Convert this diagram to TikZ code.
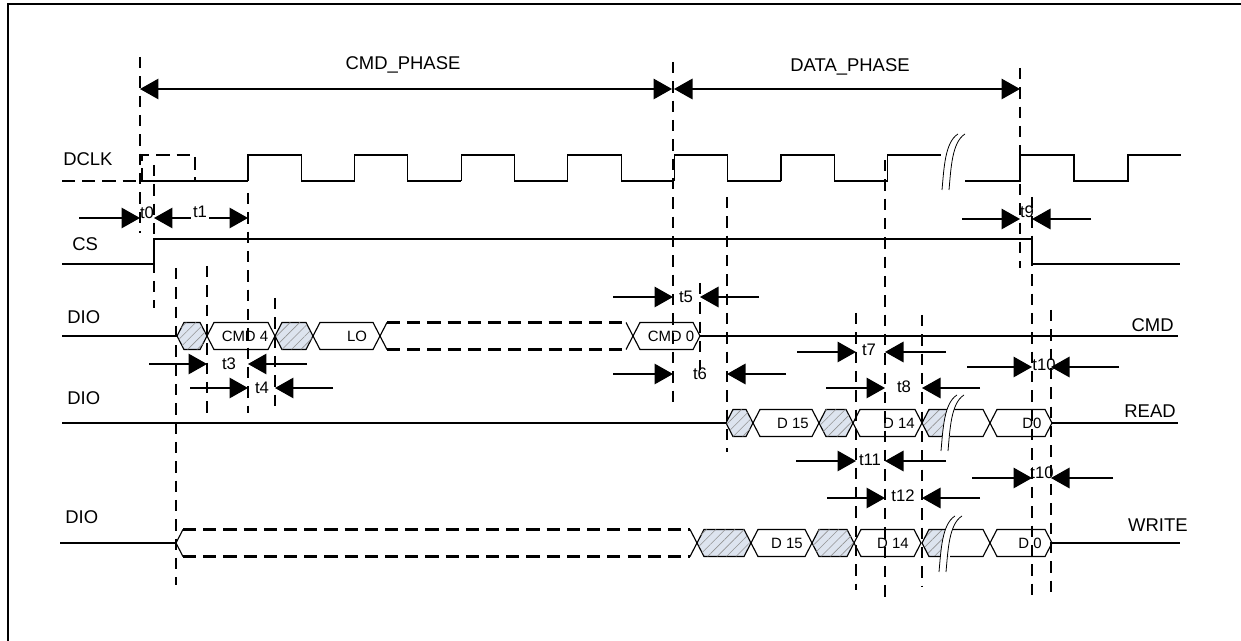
\documentclass[tikz,border=0pt]{standalone}
\usepackage{fontspec}
\setmainfont{Liberation Sans}
\usetikzlibrary{arrows.meta,patterns.meta}
\definecolor{hatchblue}{RGB}{221,228,239}

\begin{document}
\begin{tikzpicture}[x=0.02cm, y=-0.02cm, >={Triangle[length=0.37cm,width=0.41cm]},
		sig/.style={line width=0.65pt},
		marker/.style={line width=0.9pt, dash pattern=on 6.5pt off 4.5pt},
		busdash/.style={line width=1.5pt, dash pattern=on 7.5pt off 4pt},
		timearrow/.style={->, line width=0.9pt},
		hatched/.style={fill=hatchblue, postaction={pattern={Lines[angle=45,distance=3.8pt,line width=0.35pt]}, pattern color=gray!85}},
		lbl/.style={font=\fontsize{10.5}{12}\selectfont, inner sep=0pt},
		tlbl/.style={font=\fontsize{9.5}{11}\selectfont, inner sep=0pt},
		boxtxt/.style={font=\fontsize{8.5}{10}\selectfont, inner sep=0pt}]
		\useasboundingbox (0,0) rectangle (1241,641);

		% Frame
		\draw[line width=1.4pt] (8,641) -- (8,4) -- (1241,4);

		% Phases
		\draw[<->, line width=0.9pt] (140,89) -- (672,89);
		\draw[<->, line width=0.9pt] (674,89) -- (1020,89);
		\node[lbl, anchor=base] (cmdphase) at (403,70) {CMD\_PHASE};
		\node[lbl, anchor=base] (dataphase) at (850,72) {DATA\_PHASE};

		% Signal names
		\node[lbl, anchor=west] (dclk) at (63,159) {DCLK};
		\node[lbl, anchor=west] (cs) at (72,244) {CS};
		\node[lbl, anchor=west] (diocmd) at (67,317) {DIO};
		\node[lbl, anchor=west] (dioread) at (67,398) {DIO};
		\node[lbl, anchor=west] (diowrite) at (65,517) {DIO};
		\node[lbl, anchor=east] (cmd) at (1174,325) {CMD};
		\node[lbl, anchor=east] (read) at (1176,411) {READ};
		\node[lbl, anchor=east] (write) at (1188,525) {WRITE};

		% DCLK
		\draw[busdash] (62,181) -- (140,181);
		\draw[busdash] (142,181) -- (142,155) -- (195,155) -- (195,181);
		\draw[sig] (140,181) -- (248,181);
		\foreach \k in {0,...,5}
			\draw[sig] (248+106.6*\k,181) -- (248+106.6*\k,155) -- (301.3+106.6*\k,155) -- (301.3+106.6*\k,181) -- (354.6+106.6*\k,181);
		\draw[sig] (887.6,181) -- (887.6,155) -- (941,155);
		\draw[sig] (965,181) -- (1020,181) -- (1020,155) -- (1074,155) -- (1074,181) -- (1128,181) -- (1128,155) -- (1181,155);

		% CS
		\draw[sig] (62,264) -- (154,264) -- (154,239) -- (1032,239) -- (1032,264) -- (1180,264);

		% DIO lines
		\draw[sig] (62,336) -- (177,336) (700,336) -- (1178,336);
		\draw[sig] (62,423) -- (726,423) (1052,423) -- (1178,423);
		\draw[sig] (60,543) -- (176,543) (1052,543) -- (1180,543);

		% Dashed bus parts
		\draw[busdash] (387,322.5) -- (626,322.5) (387,349.5) -- (626,349.5);
		\draw[sig] (387,322.5) -- (380,336) -- (387,349.5) (626,322.5) -- (633,336) -- (626,349.5);
		\draw[busdash] (183,529.5) -- (690,529.5) (183,556.5) -- (690,556.5);
		\draw[sig] (183,529.5) -- (176,543) -- (183,556.5) (690,529.5) -- (697,543) -- (690,556.5);

		% Hatched boxes
		\foreach \xa/\xb/\y in {177/207/336, 275/313/336, 726/753/423, 819/853/423, 697/751/543, 812/854/543}
			\draw[sig, hatched] (\xa,\y) -- (\xa+7,\y-13.5) -- (\xb-7,\y-13.5) -- (\xb,\y) -- (\xb-7,\y+13.5) -- (\xa+7,\y+13.5) -- cycle;

		% Data boxes
		\foreach \xa/\xb/\y/\xt/\nm/\txt in {207/275/336/245/cmdfour/CMD 4, 313/380/336/357/lo/LO, 633/700/336/671/cmdzero/CMD 0,
				753/819/423/793/rdfifteen/D 15, 853/922/423/899/rdfourteen/D 14, 990/1052/423/1032/rdzero/D0,
				751/812/543/787/wrfifteen/D 15, 854/921/543/893/wrfourteen/D 14, 990/1052/543/1030/wrzero/D 0} {
			\draw[sig] (\xa,\y) -- (\xa+7,\y-13.5) -- (\xb-7,\y-13.5) -- (\xb,\y) -- (\xb-7,\y+13.5) -- (\xa+7,\y+13.5) -- cycle;
			\node[boxtxt] (\nm) at (\xt,\y) {\txt};
		}

		% Boxes cut by the breaks
		\foreach \y in {423, 543} {
			\fill[hatched] (922,\y) -- (929,\y-13.5) -- (948,\y-13.5) -- (948,\y+13.5) -- (929,\y+13.5) -- cycle;
			\draw[sig] (948,\y-13.5) -- (929,\y-13.5) -- (922,\y) -- (929,\y+13.5) -- (948,\y+13.5);
			\draw[sig] (950,\y-13.5) -- (983,\y-13.5) -- (990,\y) -- (983,\y+13.5) -- (950,\y+13.5);
		}

		% Breaks
		\foreach \bx/\by in {951/162, 950/423, 948/544} {
			\fill[white] (\bx+7,\by-28) .. controls (\bx-6,\by-20) and (\bx-7,\by+6) .. (\bx-9,\by+28) -- (\bx-2,\by+28) .. controls (\bx,\by+6) and (\bx+1,\by-20) .. (\bx+14,\by-28) -- cycle;
			\draw[line width=0.45pt] (\bx+7,\by-28) .. controls (\bx-6,\by-20) and (\bx-7,\by+6) .. (\bx-9,\by+28);
			\draw[line width=0.45pt] (\bx+14,\by-28) .. controls (\bx+1,\by-20) and (\bx,\by+6) .. (\bx-2,\by+28);
		}

		% Timing marks
		\foreach \x/\ya/\yb in {140/57/233, 154/165/308, 176/268/585, 207/266/413, 248/193/413, 275/298/412,
				673/62/407, 700/283/370, 727/197/452, 856/313/590, 885/160/597, 922/315/587,
				1020/68/268, 1032/197/597, 1051/310/597}
			\draw[marker] (\x,\ya) -- (\x,\yb);

		% Timing parameters
		\draw[timearrow] (79,218) -- (140,218);
		\draw[timearrow, <->] (154,218) -- (248,218);
		\node[tlbl] (tzero) at (147,213) {t0};
		\node[tlbl, fill=white, inner sep=1pt] (tone) at (200,212) {t1};
		\foreach \xa/\xl/\xr/\xb/\y/\xt/\yt/\txt [count=\i] in {962/1020/1032/1091/219/1027/212/t9,
				613/673/700/759/297/686/297/t5, 613/673/727/786/374/700/374/t6,
				797/856/885/946/352/869/350/t7, 826/885/922/980/388/904/387/t8,
				967/1032/1051/1119/367/1044/365/t10, 796/856/885/946/461/870/460/t11,
				972/1032/1051/1113/478/1042/473/t10, 827/885/922/980/498/903/496/t12,
				149/207/248/307/364/229/364/t3, 190/248/275/333/388/262/388/t4} {
			\draw[timearrow] (\xa,\y) -- (\xl,\y);
			\draw[timearrow] (\xb,\y) -- (\xr,\y);
			\node[tlbl] (tl\i) at (\xt,\yt) {\txt};
		}
	\end{tikzpicture}
\end{document}
